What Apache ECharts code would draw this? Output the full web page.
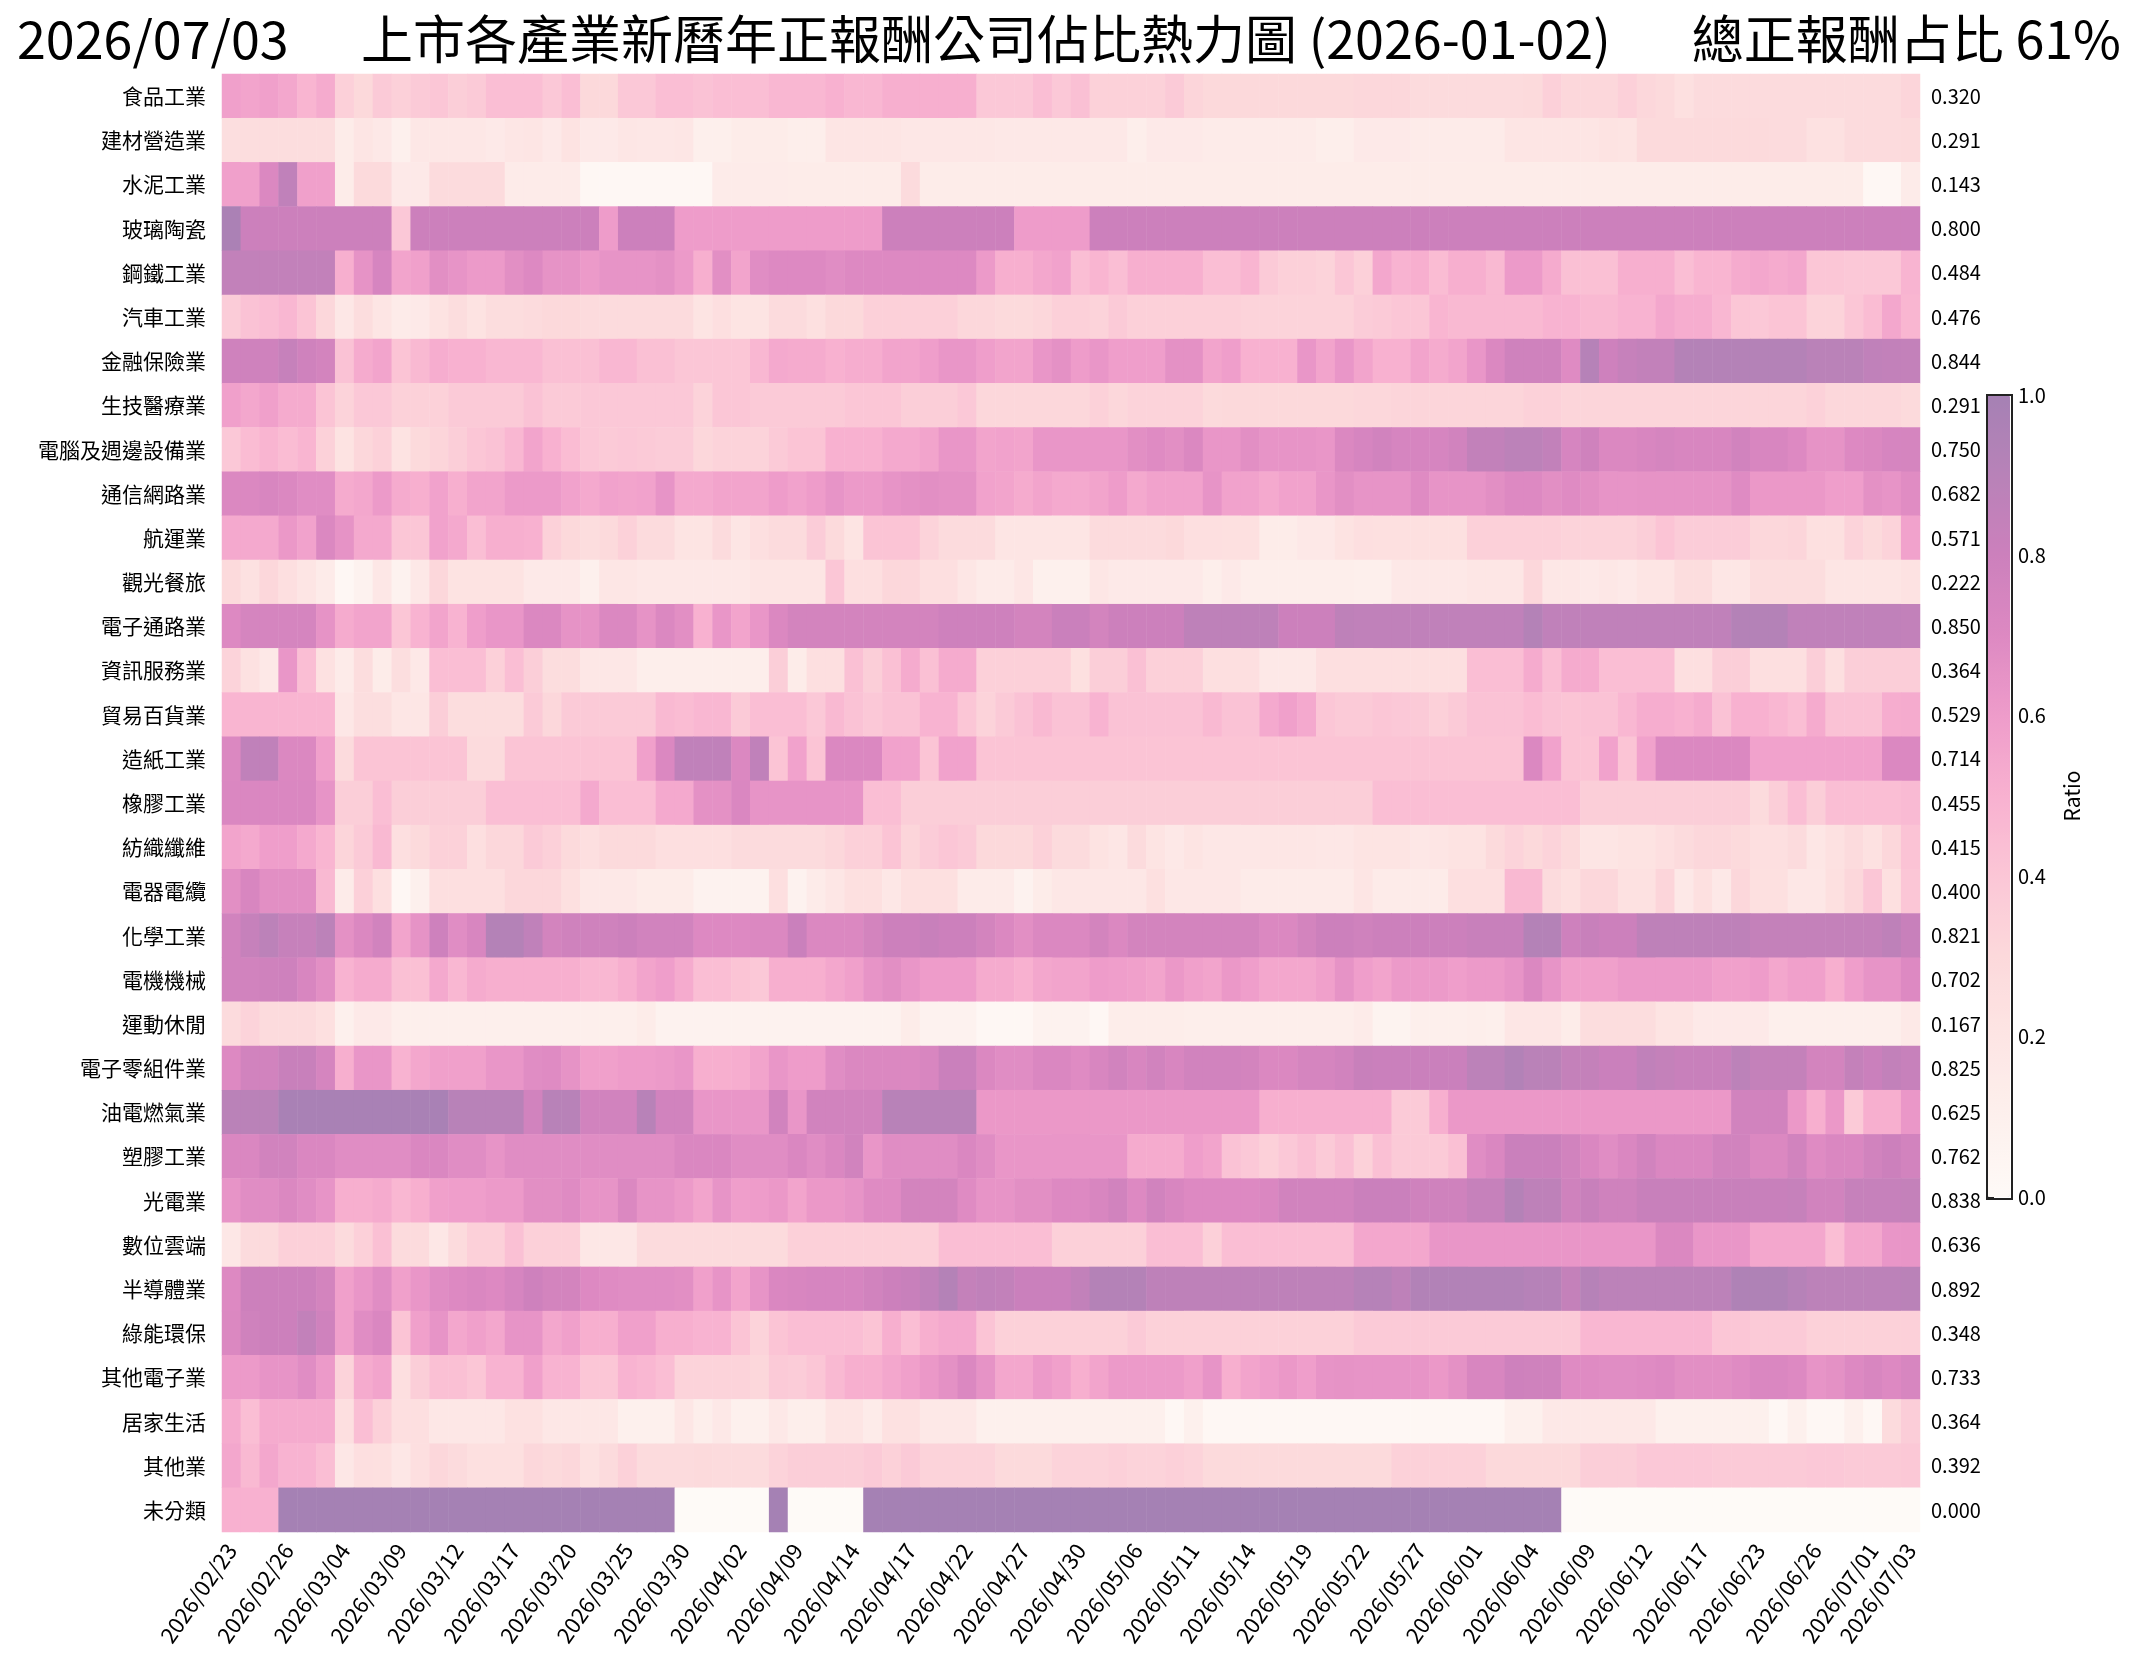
<!DOCTYPE html>
<html>
<head>
<meta charset="utf-8">
<script src="https://cdn.jsdelivr.net/npm/echarts@6/dist/echarts.min.js"></script>
<style>
  html, body { margin: 0; padding: 0; background: #fff; }
  #main { width: 2140px; height: 1664px; }
</style>
</head>
<body>
<div id="main"></div>
<script>
// 產業名稱 (由上而下)
var industries = ['食品工業', '建材營造業', '水泥工業', '玻璃陶瓷', '鋼鐵工業', '汽車工業', '金融保險業', '生技醫療業',
  '電腦及週邊設備業', '通信網路業', '航運業', '觀光餐旅', '電子通路業', '資訊服務業', '貿易百貨業', '造紙工業',
  '橡膠工業', '紡織纖維', '電器電纜', '化學工業', '電機機械', '運動休閒', '電子零組件業', '油電燃氣業',
  '塑膠工業', '光電業', '數位雲端', '半導體業', '綠能環保', '其他電子業', '居家生活', '其他業', '未分類'];

// 交易日
var dates = ['2026/02/23', '2026/02/24', '2026/02/25', '2026/02/26',
  '2026/03/02', '2026/03/03', '2026/03/04', '2026/03/05', '2026/03/06',
  '2026/03/09', '2026/03/10', '2026/03/11', '2026/03/12', '2026/03/13',
  '2026/03/16', '2026/03/17', '2026/03/18', '2026/03/19', '2026/03/20',
  '2026/03/23', '2026/03/24', '2026/03/25', '2026/03/26', '2026/03/27',
  '2026/03/30', '2026/03/31', '2026/04/01', '2026/04/02',
  '2026/04/07', '2026/04/08', '2026/04/09', '2026/04/10',
  '2026/04/13', '2026/04/14', '2026/04/15', '2026/04/16', '2026/04/17',
  '2026/04/20', '2026/04/21', '2026/04/22', '2026/04/23', '2026/04/24',
  '2026/04/27', '2026/04/28', '2026/04/29', '2026/04/30',
  '2026/05/04', '2026/05/05', '2026/05/06', '2026/05/07', '2026/05/08',
  '2026/05/11', '2026/05/12', '2026/05/13', '2026/05/14', '2026/05/15',
  '2026/05/18', '2026/05/19', '2026/05/20', '2026/05/21', '2026/05/22',
  '2026/05/25', '2026/05/26', '2026/05/27', '2026/05/28', '2026/05/29',
  '2026/06/01', '2026/06/02', '2026/06/03', '2026/06/04', '2026/06/05',
  '2026/06/08', '2026/06/09', '2026/06/10', '2026/06/11', '2026/06/12',
  '2026/06/15', '2026/06/16', '2026/06/17', '2026/06/18',
  '2026/06/22', '2026/06/23', '2026/06/24', '2026/06/25', '2026/06/26',
  '2026/06/29', '2026/06/30', '2026/07/01', '2026/07/02', '2026/07/03'];

var food = [0.58,0.56,0.58,0.55,0.48,0.53,0.35,0.30,0.38,0.35, 0.38,0.40,0.36,0.38,0.44,0.44,0.44,0.39,0.44,0.30,
  0.30,0.39,0.39,0.44,0.44,0.42,0.44,0.44,0.44,0.47, 0.47,0.47,0.50,0.47,0.47,0.51,0.51,0.51,0.51,0.51,
  0.39,0.39,0.39,0.44,0.39,0.43,0.34,0.34,0.34,0.34, 0.38,0.32,0.30,0.30,0.30,0.30,0.30,0.30,0.30,0.30,
  0.31,0.31,0.31,0.28,0.28,0.28,0.28,0.28,0.28,0.29, 0.35,0.31,0.31,0.31,0.35,0.31,0.29,0.24,0.28,0.28,
  0.28,0.28,0.28,0.28,0.28,0.28,0.28,0.28,0.28,0.32];
var building = [0.26,0.27,0.27,0.27,0.27,0.27,0.14,0.20,0.17,0.10, 0.18,0.18,0.18,0.18,0.16,0.19,0.20,0.16,0.22,0.16,
  0.16,0.19,0.18,0.18,0.19,0.11,0.11,0.14,0.14,0.14, 0.12,0.12,0.20,0.20,0.20,0.20,0.18,0.18,0.18,0.18,
  0.18,0.17,0.17,0.17,0.17,0.17,0.17,0.17,0.12,0.16, 0.16,0.16,0.15,0.15,0.15,0.15,0.15,0.15,0.12,0.12,
  0.16,0.16,0.16,0.15,0.15,0.15,0.15,0.15,0.20,0.20, 0.20,0.20,0.20,0.22,0.21,0.29,0.29,0.29,0.29,0.29,
  0.29,0.29,0.28,0.28,0.23,0.23,0.28,0.28,0.28,0.291];
var cement = [0.58,0.58,0.71,0.86,0.58,0.58,0.14,0.29,0.29,0.16, 0.16,0.28,0.28,0.28,0.28,0.15,0.15,0.15,0.15,0.03,
  0.03,0.03,0.03,0.03,0.03,0.03,0.15,0.15,0.15,0.15, 0.14,0.14,0.14,0.14,0.14,0.14,0.28,0.14,0.14,0.14,
  0.14,0.14,0.14,0.14,0.14,0.14,0.14,0.14,0.14,0.14, 0.14,0.14,0.14,0.14,0.14,0.14,0.14,0.14,0.14,0.14,
  0.14,0.14,0.14,0.14,0.14,0.14,0.14,0.14,0.14,0.14, 0.14,0.14,0.14,0.14,0.14,0.14,0.14,0.14,0.14,0.14,
  0.14,0.14,0.14,0.14,0.14,0.14,0.14,0.03,0.03,0.143];
var glass = [0.97,0.80,0.80,0.80,0.80,0.80,0.80,0.80,0.80,0.39, 0.80,0.80,0.80,0.80,0.80,0.80,0.80,0.80,0.80,0.80,
  0.60,0.80,0.80,0.80,0.60,0.60,0.60,0.60,0.60,0.60, 0.60,0.60,0.60,0.60,0.60,0.80,0.80,0.80,0.80,0.80,
  0.80,0.80,0.60,0.60,0.60,0.60,0.80,0.80,0.80,0.80, 0.80,0.80,0.80,0.80,0.80,0.80,0.80,0.80,0.80,0.80,
  0.80,0.80,0.80,0.80,0.80,0.80,0.80,0.80,0.80,0.80, 0.80,0.80,0.80,0.80,0.80,0.80,0.80,0.80,0.80,0.80,
  0.80,0.80,0.80,0.80,0.80,0.80,0.80,0.80,0.80,0.80];
var steel = [0.85,0.85,0.85,0.85,0.85,0.85,0.51,0.65,0.74,0.56, 0.58,0.67,0.64,0.61,0.61,0.67,0.70,0.65,0.65,0.61,
  0.64,0.64,0.64,0.66,0.61,0.51,0.67,0.56,0.68,0.70, 0.70,0.70,0.68,0.70,0.70,0.70,0.70,0.70,0.70,0.70,
  0.61,0.51,0.51,0.55,0.57,0.44,0.48,0.44,0.51,0.51, 0.51,0.51,0.44,0.44,0.48,0.38,0.35,0.35,0.33,0.40,
  0.35,0.55,0.49,0.51,0.45,0.51,0.51,0.46,0.61,0.61, 0.53,0.43,0.43,0.43,0.51,0.51,0.51,0.44,0.48,0.48,
  0.53,0.55,0.53,0.55,0.40,0.40,0.39,0.39,0.39,0.484];
var auto = [0.37,0.42,0.44,0.47,0.41,0.31,0.18,0.27,0.20,0.15, 0.16,0.22,0.27,0.22,0.27,0.27,0.28,0.30,0.30,0.28,
  0.28,0.28,0.28,0.28,0.28,0.21,0.25,0.21,0.21,0.28, 0.28,0.24,0.30,0.30,0.35,0.35,0.35,0.35,0.35,0.31,
  0.31,0.29,0.29,0.31,0.35,0.35,0.33,0.38,0.35,0.35, 0.35,0.35,0.35,0.35,0.33,0.33,0.33,0.33,0.33,0.33,
  0.37,0.38,0.40,0.40,0.48,0.46,0.46,0.46,0.46,0.46, 0.49,0.49,0.46,0.46,0.49,0.49,0.55,0.52,0.52,0.47,
  0.40,0.39,0.41,0.41,0.33,0.33,0.40,0.45,0.55,0.476];
var finance = [0.78,0.78,0.78,0.83,0.78,0.76,0.42,0.53,0.56,0.41, 0.46,0.52,0.50,0.50,0.47,0.47,0.47,0.43,0.43,0.43,
  0.47,0.47,0.43,0.43,0.40,0.40,0.40,0.40,0.47,0.54, 0.53,0.53,0.50,0.52,0.52,0.56,0.56,0.59,0.63,0.63,
  0.59,0.56,0.56,0.63,0.66,0.60,0.63,0.59,0.59,0.59, 0.66,0.66,0.56,0.59,0.50,0.50,0.50,0.63,0.56,0.63,
  0.56,0.50,0.50,0.56,0.53,0.56,0.63,0.71,0.78,0.78, 0.78,0.69,0.91,0.79,0.83,0.85,0.85,0.92,0.92,0.92,
  0.92,0.92,0.92,0.92,0.89,0.89,0.89,0.86,0.85,0.844];
var biotech = [0.58,0.55,0.58,0.53,0.53,0.41,0.33,0.39,0.39,0.34, 0.34,0.34,0.38,0.38,0.38,0.38,0.42,0.38,0.38,0.39,
  0.39,0.39,0.39,0.39,0.39,0.33,0.40,0.40,0.38,0.38, 0.38,0.38,0.38,0.40,0.40,0.40,0.36,0.36,0.36,0.39,
  0.31,0.31,0.31,0.31,0.31,0.31,0.34,0.31,0.33,0.33, 0.33,0.33,0.29,0.30,0.30,0.30,0.30,0.30,0.30,0.30,
  0.31,0.31,0.32,0.32,0.32,0.32,0.32,0.32,0.32,0.34, 0.34,0.32,0.32,0.32,0.32,0.32,0.32,0.32,0.32,0.32,
  0.32,0.32,0.32,0.32,0.34,0.31,0.31,0.31,0.31,0.291];
var computer = [0.39,0.45,0.48,0.45,0.48,0.34,0.22,0.31,0.34,0.22, 0.29,0.32,0.36,0.40,0.42,0.47,0.56,0.50,0.45,0.39,
  0.38,0.39,0.38,0.37,0.37,0.31,0.33,0.33,0.33,0.38, 0.41,0.41,0.50,0.50,0.50,0.54,0.54,0.56,0.63,0.63,
  0.56,0.57,0.56,0.63,0.63,0.63,0.63,0.63,0.67,0.69, 0.67,0.71,0.63,0.63,0.67,0.64,0.64,0.64,0.63,0.71,
  0.74,0.77,0.74,0.74,0.74,0.77,0.85,0.85,0.88,0.88, 0.85,0.74,0.78,0.71,0.71,0.73,0.75,0.73,0.73,0.73,
  0.77,0.73,0.73,0.70,0.65,0.65,0.70,0.71,0.74,0.75];
var telecom = [0.71,0.71,0.73,0.71,0.68,0.68,0.53,0.55,0.61,0.53, 0.51,0.57,0.51,0.56,0.56,0.61,0.61,0.61,0.57,0.54,
  0.57,0.56,0.57,0.64,0.54,0.54,0.56,0.56,0.56,0.60, 0.57,0.60,0.64,0.61,0.61,0.64,0.66,0.67,0.66,0.66,
  0.57,0.56,0.53,0.56,0.54,0.54,0.56,0.60,0.54,0.57, 0.57,0.57,0.64,0.57,0.57,0.54,0.57,0.57,0.63,0.67,
  0.64,0.64,0.64,0.69,0.64,0.64,0.64,0.67,0.70,0.70, 0.67,0.69,0.67,0.64,0.64,0.65,0.65,0.65,0.65,0.65,
  0.69,0.62,0.62,0.62,0.62,0.59,0.59,0.66,0.64,0.682];
var shipping = [0.54,0.54,0.54,0.62,0.57,0.71,0.65,0.54,0.54,0.40, 0.40,0.57,0.54,0.44,0.51,0.51,0.50,0.34,0.30,0.27,
  0.29,0.34,0.28,0.28,0.21,0.21,0.28,0.20,0.25,0.28, 0.28,0.37,0.29,0.21,0.41,0.41,0.41,0.33,0.28,0.28,
  0.28,0.20,0.20,0.20,0.20,0.20,0.28,0.28,0.28,0.28, 0.30,0.25,0.25,0.24,0.24,0.14,0.14,0.17,0.17,0.22,
  0.25,0.24,0.24,0.24,0.24,0.24,0.35,0.35,0.35,0.35, 0.35,0.33,0.33,0.33,0.33,0.36,0.41,0.37,0.37,0.37,
  0.37,0.31,0.31,0.32,0.24,0.24,0.33,0.29,0.33,0.571];
var tourism = [0.29,0.23,0.31,0.25,0.20,0.15,0.03,0.08,0.18,0.08, 0.17,0.31,0.22,0.22,0.22,0.22,0.16,0.16,0.16,0.10,
  0.19,0.19,0.17,0.17,0.17,0.17,0.17,0.17,0.20,0.20, 0.20,0.20,0.40,0.25,0.25,0.31,0.31,0.25,0.25,0.19,
  0.15,0.15,0.19,0.10,0.10,0.10,0.19,0.16,0.16,0.16, 0.16,0.16,0.12,0.16,0.12,0.12,0.12,0.12,0.12,0.12,
  0.11,0.11,0.17,0.17,0.17,0.17,0.19,0.19,0.19,0.31, 0.18,0.18,0.16,0.18,0.16,0.20,0.20,0.27,0.27,0.19,
  0.19,0.27,0.27,0.27,0.27,0.20,0.20,0.20,0.20,0.222];
var distribution = [0.70,0.75,0.75,0.75,0.75,0.65,0.53,0.56,0.56,0.40, 0.49,0.56,0.49,0.59,0.63,0.63,0.71,0.71,0.65,0.65,
  0.71,0.71,0.65,0.71,0.67,0.50,0.63,0.56,0.63,0.71, 0.76,0.76,0.76,0.76,0.76,0.76,0.76,0.76,0.79,0.79,
  0.79,0.79,0.76,0.76,0.81,0.81,0.76,0.80,0.80,0.80, 0.80,0.87,0.87,0.87,0.87,0.87,0.80,0.80,0.80,0.87,
  0.86,0.86,0.86,0.86,0.86,0.86,0.86,0.86,0.86,0.92, 0.86,0.86,0.86,0.86,0.86,0.86,0.86,0.86,0.86,0.86,
  0.92,0.92,0.92,0.86,0.86,0.86,0.86,0.86,0.86,0.85];
var infoService = [0.33,0.23,0.17,0.63,0.44,0.23,0.15,0.27,0.14,0.26, 0.17,0.44,0.44,0.44,0.35,0.44,0.36,0.27,0.27,0.18,
  0.18,0.18,0.12,0.12,0.12,0.12,0.12,0.12,0.12,0.36, 0.14,0.25,0.25,0.43,0.36,0.43,0.53,0.43,0.53,0.53,
  0.35,0.35,0.35,0.35,0.35,0.24,0.36,0.36,0.43,0.35, 0.35,0.35,0.25,0.25,0.25,0.17,0.17,0.17,0.25,0.25,
  0.25,0.25,0.25,0.25,0.25,0.25,0.44,0.44,0.44,0.53, 0.44,0.53,0.53,0.44,0.44,0.44,0.44,0.25,0.25,0.36,
  0.36,0.25,0.25,0.25,0.36,0.25,0.36,0.36,0.36,0.364];
var trading = [0.48,0.48,0.48,0.48,0.48,0.48,0.18,0.26,0.26,0.19, 0.19,0.36,0.27,0.27,0.27,0.27,0.38,0.31,0.38,0.38,
  0.38,0.38,0.38,0.46,0.45,0.47,0.47,0.38,0.44,0.44, 0.44,0.39,0.46,0.42,0.39,0.42,0.42,0.49,0.49,0.40,
  0.33,0.38,0.42,0.46,0.42,0.42,0.49,0.42,0.42,0.42, 0.42,0.42,0.46,0.42,0.42,0.54,0.58,0.54,0.40,0.38,
  0.38,0.40,0.39,0.38,0.35,0.38,0.42,0.42,0.42,0.45, 0.42,0.41,0.42,0.42,0.47,0.52,0.52,0.50,0.53,0.42,
  0.50,0.50,0.47,0.44,0.53,0.42,0.42,0.42,0.52,0.529];
var paper = [0.71,0.86,0.86,0.71,0.71,0.58,0.28,0.41,0.41,0.41, 0.41,0.41,0.41,0.28,0.28,0.41,0.41,0.41,0.41,0.41,
  0.41,0.41,0.58,0.71,0.86,0.86,0.86,0.71,0.86,0.41, 0.57,0.41,0.71,0.71,0.71,0.57,0.57,0.41,0.57,0.57,
  0.41,0.41,0.41,0.41,0.41,0.41,0.41,0.41,0.41,0.41, 0.41,0.41,0.41,0.41,0.41,0.41,0.41,0.41,0.41,0.41,
  0.41,0.41,0.41,0.41,0.41,0.41,0.41,0.41,0.41,0.71, 0.57,0.41,0.41,0.57,0.41,0.57,0.71,0.71,0.71,0.71,
  0.71,0.57,0.57,0.57,0.57,0.57,0.57,0.57,0.71,0.714];
var rubber = [0.72,0.72,0.72,0.72,0.72,0.64,0.36,0.36,0.44,0.36, 0.36,0.36,0.36,0.36,0.44,0.44,0.44,0.44,0.44,0.54,
  0.44,0.44,0.44,0.54,0.54,0.66,0.66,0.72,0.64,0.64, 0.64,0.64,0.64,0.64,0.44,0.44,0.36,0.36,0.36,0.36,
  0.36,0.36,0.36,0.36,0.36,0.36,0.36,0.36,0.36,0.36, 0.36,0.36,0.36,0.36,0.36,0.36,0.36,0.36,0.36,0.36,
  0.36,0.44,0.44,0.44,0.44,0.44,0.44,0.44,0.44,0.44, 0.44,0.44,0.36,0.36,0.36,0.36,0.36,0.36,0.36,0.36,
  0.36,0.28,0.36,0.44,0.36,0.44,0.44,0.44,0.44,0.455];
var textile = [0.56,0.54,0.59,0.59,0.54,0.48,0.32,0.38,0.46,0.25, 0.29,0.34,0.34,0.25,0.31,0.31,0.38,0.35,0.29,0.25,
  0.29,0.29,0.29,0.25,0.25,0.25,0.25,0.28,0.28,0.28, 0.28,0.28,0.31,0.35,0.35,0.41,0.32,0.37,0.40,0.38,
  0.30,0.30,0.30,0.34,0.28,0.28,0.22,0.19,0.28,0.21, 0.17,0.21,0.18,0.18,0.18,0.19,0.19,0.19,0.18,0.18,
  0.21,0.21,0.21,0.18,0.20,0.22,0.22,0.29,0.33,0.30, 0.33,0.29,0.20,0.20,0.22,0.22,0.25,0.28,0.31,0.31,
  0.29,0.25,0.25,0.28,0.19,0.23,0.28,0.23,0.31,0.415];
var cable = [0.67,0.73,0.67,0.67,0.67,0.46,0.15,0.35,0.25,0.03, 0.10,0.25,0.25,0.25,0.25,0.31,0.31,0.31,0.24,0.17,
  0.17,0.17,0.14,0.14,0.14,0.08,0.08,0.08,0.08,0.25, 0.08,0.15,0.19,0.24,0.24,0.18,0.24,0.24,0.24,0.15,
  0.15,0.15,0.08,0.14,0.18,0.18,0.18,0.18,0.18,0.24, 0.18,0.18,0.18,0.18,0.15,0.15,0.15,0.15,0.15,0.15,
  0.20,0.15,0.15,0.15,0.15,0.25,0.25,0.25,0.46,0.46, 0.28,0.24,0.31,0.31,0.23,0.23,0.32,0.17,0.24,0.17,
  0.31,0.24,0.24,0.18,0.18,0.24,0.31,0.40,0.24,0.40];
var chemical = [0.77,0.83,0.88,0.83,0.83,0.88,0.66,0.71,0.77,0.56, 0.65,0.79,0.68,0.73,0.92,0.92,0.86,0.76,0.78,0.78,
  0.78,0.80,0.77,0.77,0.77,0.70,0.70,0.70,0.71,0.71, 0.81,0.71,0.71,0.71,0.76,0.80,0.80,0.82,0.80,0.80,
  0.76,0.71,0.67,0.71,0.71,0.71,0.76,0.71,0.76,0.76, 0.76,0.76,0.76,0.76,0.76,0.71,0.71,0.76,0.80,0.80,
  0.78,0.80,0.80,0.80,0.80,0.80,0.82,0.82,0.82,0.92, 0.92,0.79,0.82,0.80,0.80,0.87,0.87,0.87,0.87,0.87,
  0.87,0.84,0.84,0.84,0.84,0.84,0.84,0.84,0.87,0.821];
var machinery = [0.77,0.77,0.78,0.79,0.73,0.67,0.49,0.53,0.53,0.43, 0.43,0.54,0.47,0.53,0.51,0.51,0.51,0.51,0.51,0.47,
  0.47,0.51,0.56,0.59,0.53,0.44,0.44,0.41,0.39,0.51, 0.51,0.51,0.55,0.58,0.64,0.67,0.63,0.60,0.60,0.60,
  0.53,0.53,0.50,0.55,0.56,0.56,0.60,0.59,0.58,0.56, 0.62,0.58,0.56,0.62,0.59,0.55,0.55,0.55,0.58,0.65,
  0.59,0.56,0.61,0.61,0.61,0.59,0.61,0.61,0.64,0.71, 0.64,0.58,0.58,0.58,0.61,0.61,0.61,0.61,0.61,0.58,
  0.58,0.60,0.55,0.58,0.58,0.51,0.59,0.64,0.64,0.702];
var sports = [0.28,0.33,0.28,0.28,0.28,0.24,0.10,0.16,0.16,0.11, 0.11,0.11,0.11,0.11,0.11,0.11,0.11,0.11,0.11,0.11,
  0.11,0.11,0.14,0.08,0.08,0.08,0.08,0.08,0.08,0.08, 0.08,0.08,0.08,0.08,0.08,0.08,0.14,0.08,0.08,0.08,
  0.03,0.03,0.03,0.08,0.08,0.08,0.03,0.13,0.13,0.13, 0.13,0.12,0.12,0.12,0.12,0.12,0.12,0.12,0.12,0.12,
  0.15,0.07,0.07,0.11,0.11,0.11,0.12,0.11,0.19,0.19, 0.19,0.14,0.27,0.27,0.27,0.27,0.21,0.21,0.16,0.16,
  0.16,0.16,0.11,0.11,0.11,0.11,0.11,0.11,0.11,0.167];
var components = [0.70,0.77,0.77,0.82,0.82,0.75,0.51,0.63,0.63,0.49, 0.55,0.58,0.58,0.58,0.63,0.63,0.68,0.69,0.65,0.58,
  0.58,0.60,0.60,0.61,0.63,0.51,0.51,0.52,0.56,0.63, 0.60,0.60,0.68,0.71,0.71,0.71,0.71,0.73,0.81,0.81,
  0.71,0.68,0.68,0.72,0.72,0.69,0.73,0.77,0.73,0.77, 0.73,0.77,0.77,0.77,0.76,0.71,0.71,0.75,0.75,0.77,
  0.82,0.81,0.81,0.81,0.81,0.81,0.88,0.88,0.93,0.89, 0.89,0.84,0.84,0.81,0.81,0.86,0.84,0.82,0.82,0.82,
  0.88,0.84,0.84,0.84,0.76,0.76,0.84,0.81,0.85,0.825];
var oilGas = [0.89,0.89,0.89,0.98,0.98,0.98,0.98,0.98,0.98,0.98, 0.98,0.98,0.90,0.90,0.90,0.90,0.77,0.90,0.90,0.77,
  0.77,0.77,0.90,0.77,0.77,0.63,0.63,0.63,0.63,0.77, 0.63,0.77,0.77,0.77,0.77,0.90,0.90,0.90,0.90,0.90,
  0.62,0.62,0.62,0.62,0.62,0.62,0.62,0.62,0.62,0.62, 0.62,0.62,0.62,0.62,0.62,0.51,0.51,0.51,0.51,0.51,
  0.51,0.51,0.38,0.38,0.51,0.62,0.62,0.62,0.62,0.62, 0.62,0.62,0.62,0.62,0.62,0.62,0.62,0.62,0.62,0.62,
  0.77,0.77,0.77,0.62,0.51,0.62,0.38,0.51,0.51,0.625];
var plastic = [0.72,0.72,0.77,0.77,0.72,0.72,0.68,0.68,0.68,0.68, 0.72,0.72,0.68,0.68,0.64,0.68,0.68,0.68,0.68,0.68,
  0.68,0.68,0.68,0.68,0.72,0.72,0.72,0.68,0.68,0.68, 0.72,0.68,0.72,0.77,0.63,0.68,0.68,0.68,0.68,0.72,
  0.68,0.63,0.63,0.63,0.63,0.63,0.63,0.63,0.53,0.53, 0.53,0.59,0.56,0.42,0.39,0.35,0.39,0.43,0.38,0.43,
  0.34,0.43,0.38,0.38,0.38,0.43,0.68,0.72,0.81,0.81, 0.81,0.77,0.72,0.68,0.72,0.77,0.72,0.72,0.72,0.77,
  0.77,0.71,0.71,0.77,0.69,0.72,0.72,0.77,0.80,0.762];
var opto = [0.64,0.68,0.68,0.71,0.68,0.64,0.51,0.51,0.53,0.47, 0.51,0.58,0.59,0.59,0.61,0.61,0.67,0.67,0.69,0.64,
  0.64,0.71,0.64,0.64,0.61,0.56,0.64,0.59,0.60,0.62, 0.56,0.62,0.62,0.64,0.69,0.69,0.76,0.76,0.76,0.69,
  0.64,0.64,0.67,0.67,0.70,0.70,0.73,0.77,0.70,0.77, 0.73,0.70,0.70,0.70,0.70,0.72,0.77,0.77,0.77,0.77,
  0.81,0.81,0.81,0.78,0.78,0.78,0.83,0.83,0.92,0.87, 0.87,0.78,0.82,0.78,0.78,0.82,0.82,0.82,0.82,0.82,
  0.82,0.82,0.82,0.83,0.77,0.77,0.83,0.83,0.83,0.838];
var cloud = [0.18,0.28,0.28,0.35,0.35,0.35,0.28,0.35,0.43,0.28, 0.28,0.18,0.28,0.35,0.35,0.43,0.35,0.35,0.35,0.18,
  0.18,0.18,0.28,0.28,0.28,0.28,0.28,0.28,0.28,0.28, 0.35,0.35,0.35,0.35,0.35,0.35,0.35,0.35,0.44,0.44,
  0.44,0.44,0.44,0.44,0.35,0.35,0.35,0.35,0.35,0.44, 0.44,0.44,0.35,0.44,0.44,0.44,0.44,0.44,0.44,0.44,
  0.55,0.55,0.55,0.55,0.63,0.63,0.63,0.63,0.63,0.63, 0.63,0.63,0.63,0.63,0.63,0.63,0.71,0.71,0.63,0.63,
  0.63,0.55,0.55,0.55,0.55,0.44,0.55,0.55,0.63,0.636];
var semi = [0.70,0.80,0.80,0.80,0.80,0.76,0.58,0.63,0.68,0.58, 0.63,0.68,0.70,0.72,0.70,0.74,0.79,0.76,0.76,0.70,
  0.69,0.68,0.68,0.68,0.67,0.58,0.64,0.56,0.64,0.72, 0.73,0.74,0.74,0.74,0.77,0.80,0.82,0.86,0.92,0.84,
  0.86,0.85,0.81,0.81,0.81,0.85,0.92,0.92,0.92,0.87, 0.87,0.87,0.87,0.87,0.87,0.87,0.87,0.87,0.87,0.87,
  0.91,0.91,0.87,0.93,0.93,0.93,0.93,0.93,0.93,0.91, 0.91,0.84,0.91,0.88,0.88,0.88,0.88,0.88,0.88,0.88,
  0.95,0.95,0.95,0.91,0.88,0.88,0.88,0.88,0.88,0.892];
var green = [0.71,0.78,0.80,0.80,0.85,0.78,0.58,0.68,0.72,0.41, 0.58,0.64,0.55,0.58,0.55,0.64,0.64,0.55,0.58,0.51,
  0.51,0.58,0.58,0.51,0.51,0.49,0.49,0.41,0.33,0.41, 0.44,0.44,0.44,0.44,0.41,0.51,0.44,0.51,0.54,0.54,
  0.41,0.34,0.34,0.34,0.34,0.34,0.34,0.34,0.38,0.34, 0.34,0.34,0.34,0.34,0.34,0.34,0.34,0.34,0.34,0.34,
  0.38,0.38,0.38,0.38,0.38,0.38,0.38,0.38,0.38,0.38, 0.38,0.38,0.47,0.47,0.47,0.47,0.47,0.47,0.47,0.40,
  0.40,0.38,0.38,0.38,0.34,0.34,0.34,0.34,0.34,0.348];
var otherElec = [0.61,0.61,0.64,0.64,0.68,0.61,0.33,0.53,0.56,0.25, 0.36,0.43,0.43,0.40,0.49,0.49,0.58,0.49,0.49,0.40,
  0.40,0.49,0.47,0.44,0.33,0.33,0.33,0.33,0.31,0.38, 0.37,0.40,0.46,0.51,0.51,0.55,0.58,0.62,0.66,0.71,
  0.65,0.55,0.55,0.61,0.58,0.51,0.56,0.61,0.61,0.61, 0.61,0.58,0.64,0.51,0.56,0.59,0.62,0.59,0.64,0.65,
  0.64,0.64,0.64,0.64,0.62,0.66,0.73,0.73,0.79,0.78, 0.78,0.69,0.69,0.68,0.68,0.69,0.70,0.67,0.67,0.67,
  0.69,0.72,0.72,0.70,0.64,0.66,0.70,0.73,0.70,0.733];
var home = [0.53,0.44,0.53,0.53,0.53,0.53,0.25,0.44,0.35,0.25, 0.25,0.18,0.18,0.18,0.18,0.23,0.23,0.18,0.18,0.18,
  0.18,0.10,0.10,0.10,0.19,0.12,0.17,0.10,0.10,0.17, 0.12,0.12,0.20,0.20,0.15,0.23,0.23,0.17,0.17,0.17,
  0.10,0.10,0.10,0.10,0.10,0.10,0.10,0.10,0.10,0.10, 0.03,0.10,0.03,0.03,0.03,0.03,0.03,0.03,0.03,0.03,
  0.03,0.03,0.03,0.03,0.03,0.03,0.03,0.03,0.10,0.10, 0.17,0.17,0.17,0.17,0.17,0.17,0.10,0.10,0.10,0.10,
  0.10,0.10,0.03,0.10,0.03,0.03,0.10,0.03,0.28,0.364];
var other = [0.55,0.46,0.55,0.49,0.49,0.44,0.18,0.25,0.24,0.18, 0.25,0.31,0.28,0.24,0.24,0.24,0.31,0.29,0.31,0.23,
  0.28,0.34,0.28,0.28,0.28,0.29,0.28,0.28,0.28,0.33, 0.36,0.36,0.36,0.36,0.38,0.34,0.38,0.33,0.33,0.33,
  0.33,0.29,0.29,0.29,0.33,0.33,0.33,0.35,0.33,0.33, 0.35,0.33,0.29,0.29,0.29,0.29,0.29,0.29,0.29,0.29,
  0.29,0.29,0.34,0.34,0.34,0.34,0.34,0.30,0.30,0.30, 0.30,0.30,0.36,0.36,0.36,0.39,0.39,0.39,0.39,0.38,
  0.38,0.38,0.38,0.38,0.39,0.39,0.38,0.38,0.38,0.392];
var unclassified = [0.50,0.50,0.50,1,1,1,1,1,1,1, 1,1,1,1,1,1,1,1,1,1,
  1,1,1,1,0,0,0,0,0,1, 0,0,0,0,1,1,1,1,1,1,
  1,1,1,1,1,1,1,1,1,1, 1,1,1,1,1,1,1,1,1,1,
  1,1,1,1,1,1,1,1,1,1, 1,0,0,0,0,0,0,0,0,0,
  0,0,0,0,0,0,0,0,0,0];

var rows = [food, building, cement, glass, steel, auto, finance, biotech, computer, telecom, shipping,
  tourism, distribution, infoService, trading, paper, rubber, textile, cable, chemical, machinery,
  sports, components, oilGas, plastic, opto, cloud, semi, green, otherElec, home, other, unclassified];

// 色階 (0 -> 1)
var cmap = ['#fefaf7', '#fdf0ed', '#fde5e4', '#fcd9db', '#fbc6d6', '#f8b1d0',
  '#ee9cca', '#dd89c2', '#cc80bc', '#b882b8', '#a581b4'];

var FONT = '"Noto Sans CJK TC", "Noto Sans", sans-serif';

var cells = [];
rows.forEach(function (vals, r) {
  vals.forEach(function (v, c) {
    cells.push([c, r, v]);
  });
});
var lastVals = rows.map(function (vals) {
  return vals[vals.length - 1].toFixed(3);
});

var titleStyle = { fontSize: 52, fontWeight: 'normal', color: '#000', fontFamily: FONT };

var chart = echarts.init(document.getElementById('main'));
var option = {
  animation: false,
  backgroundColor: '#ffffff',
  textStyle: { fontFamily: FONT, color: '#000' },
  title: [
    { text: '2026/07/03', left: 12, top: 8, textStyle: titleStyle },
    { text: '上市各產業新曆年正報酬公司佔比熱力圖 (2026-01-02)', left: 356, top: 8, textStyle: titleStyle },
    { text: '總正報酬占比 61%', right: 14, top: 8, textStyle: titleStyle }
  ],
  grid: [
    { left: 222, top: 74, right: 220, bottom: 132 },
    { left: 1987, top: 395, width: 23, height: 802 }
  ],
  xAxis: [
    {
      type: 'category', gridIndex: 0, data: dates,
      axisLine: { show: false }, axisTick: { show: false }, splitLine: { show: false },
      axisLabel: {
        rotate: 55, fontSize: 22, color: '#000', margin: 14, fontFamily: FONT,
        interval: function (i) { return i % 3 === 0 || i === dates.length - 1; }
      }
    },
    { type: 'value', gridIndex: 1, show: false, min: 0, max: 1 }
  ],
  yAxis: [
    {
      type: 'category', gridIndex: 0, data: industries, inverse: true,
      axisLine: { show: false }, axisTick: { show: false }, splitLine: { show: false },
      axisLabel: { fontSize: 21, color: '#000', margin: 16, fontFamily: FONT }
    },
    {
      type: 'category', gridIndex: 0, data: lastVals, inverse: true, position: 'right',
      axisLine: { show: false }, axisTick: { show: false }, splitLine: { show: false },
      axisLabel: { fontSize: 20, color: '#000', margin: 11, fontFamily: FONT }
    },
    {
      type: 'value', gridIndex: 1, min: 0, max: 1, interval: 0.2, position: 'right',
      axisLine: { show: true, lineStyle: { color: '#222', width: 2 } },
      axisTick: { show: true, length: 7, lineStyle: { color: '#222', width: 2 } },
      splitLine: { show: false },
      axisLabel: { fontSize: 20, color: '#000', margin: 8, fontFamily: FONT,
        formatter: function (v) { return v.toFixed(1); } },
      name: 'Ratio', nameLocation: 'middle', nameRotate: 90, nameGap: 52,
      nameTextStyle: { fontSize: 21, color: '#000', fontFamily: FONT }
    }
  ],
  visualMap: {
    type: 'continuous', min: 0, max: 1, seriesIndex: 0, calculable: false,
    orient: 'vertical', left: 1987, top: 395, itemWidth: 23, itemHeight: 802, padding: 0,
    inRange: { color: cmap }
  },
  graphic: [
    { type: 'rect', left: 1986, top: 394, z: 100,
      shape: { width: 25, height: 804 },
      style: { fill: 'rgba(0,0,0,0)', stroke: '#222', lineWidth: 2 } }
  ],
  series: [{
    type: 'heatmap', xAxisIndex: 0, yAxisIndex: 0, data: cells,
    progressive: 0, emphasis: { disabled: true },
    itemStyle: { borderWidth: 0 }
  }]
};
chart.setOption(option);
</script>
</body>
</html>
